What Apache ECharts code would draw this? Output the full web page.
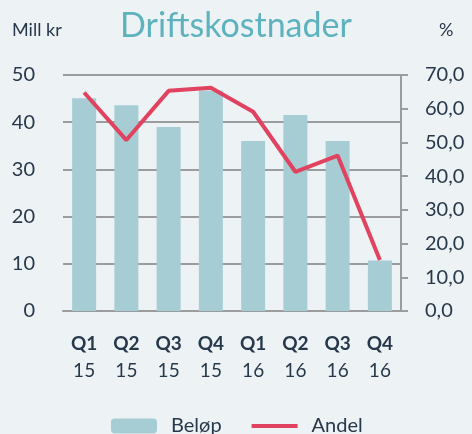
<!DOCTYPE html>
<html style="height: 100%">
<head>
<meta charset="utf-8">
<title>Driftskostnader</title>
<script src="https://cdn.jsdelivr.net/npm/echarts@6/dist/echarts.min.js"></script>
</head>
<body style="height: 100%; margin: 0; background: #edf2f5">
<div id="target" style="width: 472px; height: 434px"></div>
<script>
const quarters = ["Q1", "Q2", "Q3", "Q4", "Q1", "Q2", "Q3", "Q4"];
const years = ["15", "15", "15", "15", "16", "16", "16", "16"];
const belop = [45.1, 43.6, 39.0, 46.7, 36.0, 41.5, 36.0, 10.7];
const andel = [64.8, 50.7, 65.3, 66.2, 59.1, 41.3, 46.1, 15.1];

const textColor = "#27384a";
const gridColor = "#9a9c9e";
const font = "Lato";

let chart = echarts.init(document.getElementById('target'));

let option = {
    backgroundColor: "#edf2f5",
    animation: false,
    textStyle: { fontFamily: font, color: textColor },
    title: {
        text: "Driftskostnader",
        left: "center",
        top: 4,
        textStyle: { fontFamily: font, fontSize: 34, fontWeight: "normal", color: "#5db2be" },
    },
    graphic: [
        { type: "text", left: 12, top: 21, style: { text: "Mill kr", fontFamily: font, fontSize: 18, fill: textColor } },
        { type: "text", left: 439, top: 21, style: { text: "%", fontFamily: font, fontSize: 18, fill: textColor } },
    ],
    legend: {
        top: 411,
        left: 106,
        itemWidth: 46,
        itemHeight: 15,
        itemGap: 30,
        textStyle: { fontSize: 20, color: textColor, fontFamily: font, padding: [0, 0, 0, 9] },
        data: [
            { name: "Beløp" },
            { name: "Andel", icon: "path://M0,0h46v4h-46z" },
        ],
    },
    grid: { left: 63, right: 71, top: 75, bottom: 123, containLabel: false },
    xAxis: {
        type: "category",
        data: quarters.map((q, i) => q + "\n" + years[i]),
        axisLine: { lineStyle: { color: gridColor, width: 2 } },
        axisTick: { show: false },
        axisLabel: {
            margin: 19,
            interval: 0,
            formatter: v => {
                const p = v.split("\n");
                return "{q|" + p[0] + "}\n{y|" + p[1] + "}";
            },
            rich: {
                q: { fontSize: 19, fontWeight: "bold", color: textColor, fontFamily: font, lineHeight: 27 },
                y: { fontSize: 19, color: textColor, fontFamily: font, lineHeight: 27 },
            },
        },
    },
    yAxis: [
        {
            type: "value",
            min: 0, max: 50, interval: 10,
            axisLine: { show: false },
            axisTick: { show: false },
            splitLine: { lineStyle: { color: gridColor, width: 2 } },
            axisLabel: { margin: 28, fontSize: 20, color: textColor, fontFamily: font },
        },
        {
            type: "value",
            min: 0, max: 70, interval: 10,
            position: "right",
            axisLine: { show: true, lineStyle: { color: gridColor, width: 2 } },
            axisTick: { show: true, length: 7, lineStyle: { color: gridColor, width: 2 } },
            splitLine: { show: false },
            axisLabel: {
                margin: 24, fontSize: 20, color: textColor, fontFamily: font,
                formatter: v => v.toFixed(1).replace(".", ","),
            },
        },
    ],
    series: [
        {
            name: "Beløp",
            type: "bar",
            data: belop,
            barWidth: 24,
            itemStyle: { color: "#a7cdd4" },
            yAxisIndex: 0,
        },
        {
            name: "Andel",
            type: "line",
            data: andel,
            yAxisIndex: 1,
            symbol: "none",
            lineStyle: { color: "#e0425f", width: 4 },
            itemStyle: { color: "#e0425f" },
        },
    ],
};

chart.setOption(option);
</script>
</body>
</html>
